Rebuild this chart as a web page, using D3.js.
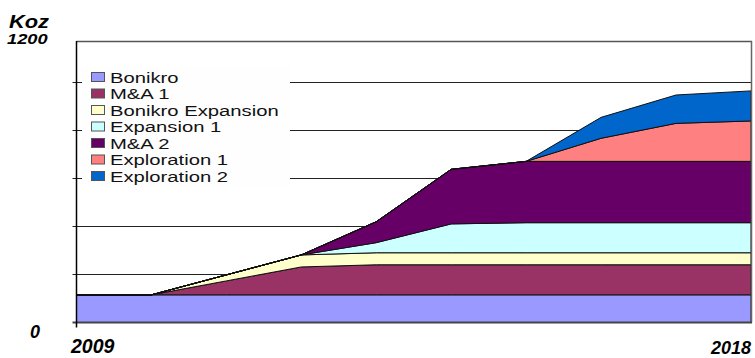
<!DOCTYPE html>
<html>
<head>
<meta charset="utf-8">
<script src="https://cdn.jsdelivr.net/npm/d3@7"></script>
<style>
  body { margin: 0; background: #fff; }
  svg { display: block; font-family: "Liberation Sans", Arial, sans-serif; }
</style>
</head>
<body>
<div id="chart"></div>
<script>
"use strict";

// data (Koz)
var years = [2009, 2010, 2011, 2012, 2013, 2014, 2015, 2016, 2017, 2018];
var seriesNames = ["Bonikro", "M&A 1", "Bonikro Expansion", "Expansion 1", "M&A 2", "Exploration 1", "Exploration 2"];
var bonikro     = [115, 115, 115, 115, 115, 115, 115, 115, 115, 115];
var ma1         = [0, 0, 58, 116, 125, 125, 125, 125, 125, 125];
var bonikroExp  = [0, 0, 25, 50, 50, 50, 50, 50, 50, 50];
var expansion1  = [0, 0, 0, 0, 42, 120, 125, 125, 125, 125];
var ma2         = [0, 0, 0, 0, 87, 227, 255, 255, 255, 255];
var exploration1 = [0, 0, 0, 0, 0, 0, 0, 96, 158, 168];
var exploration2 = [0, 0, 0, 0, 0, 0, 0, 87, 118, 125];
var gridValues = [200, 400, 600, 800, 1000];
var colors = ["#9999ff", "#993366", "#ffffcc", "#ccffff", "#660066", "#ff8080", "#0066cc"];

var allSeries = [bonikro, ma1, bonikroExp, expansion1, ma2, exploration1, exploration2];
var table = years.map(function(yr, i){
    var row = {year: yr};
    seriesNames.forEach(function(name, k){ row[name] = allSeries[k][i]; });
    return row;
});

var W = 755, H = 358;
var left = 76.5, right = 751, bottom = 322.5, plotTop = 41;

var svg = d3.select("#chart").append("svg")
    .attr("width", W)
    .attr("height", H);

var x = d3.scaleLinear().domain([years[0], years[years.length - 1]]).range([left, right]);
var y = d3.scaleLinear().domain([0, 1200]).range([bottom, bottom - 6 * 48.1]);

// grid lines
svg.append("g").selectAll("line").data(gridValues).enter()
    .append("line")
        .attr("x1", left - 4)
        .attr("x2", right)
        .attr("y1", function(d){ return Math.round(y(d)) + 0.5; })
        .attr("y2", function(d){ return Math.round(y(d)) + 0.5; })
        .attr("stroke", "#222")
        .attr("stroke-width", 1);

// stacked areas
var stack = d3.stack().keys(seriesNames);
var layers = stack(table);

var area = d3.area()
    .x(function(d){ return x(d.data.year); })
    .y0(function(d){ return y(d[0]); })
    .y1(function(d){ return y(d[1]); });

svg.append("g").selectAll("path").data(layers).enter()
    .append("path")
        .attr("d", area)
        .attr("fill", function(d, i){ return colors[i]; })
        .attr("stroke", "#111")
        .attr("stroke-width", 1)
        .attr("stroke-linejoin", "round");

// frame
svg.append("line")
    .attr("x1", left).attr("x2", right + 1)
    .attr("y1", plotTop + 0.5).attr("y2", plotTop + 0.5)
    .attr("stroke", "#555").attr("stroke-width", 1.5);
svg.append("line")
    .attr("x1", right + 0.5).attr("x2", right + 0.5)
    .attr("y1", plotTop).attr("y2", bottom)
    .attr("stroke", "#666").attr("stroke-width", 1.5);
svg.append("line")
    .attr("x1", left - 4).attr("x2", right + 1)
    .attr("y1", bottom).attr("y2", bottom)
    .attr("stroke", "#444").attr("stroke-width", 2);
svg.append("line")
    .attr("x1", left).attr("x2", left)
    .attr("y1", plotTop).attr("y2", bottom + 5)
    .attr("stroke", "#000").attr("stroke-width", 1.5);

// legend
var legend = svg.append("g").attr("transform", "translate(82, 67)");
legend.append("rect")
    .attr("width", 208)
    .attr("height", 119)
    .attr("fill", "#fefefe");

var items = legend.selectAll("g.item").data(seriesNames).enter()
    .append("g")
        .attr("class", "item")
        .attr("transform", function(d, i){ return "translate(0," + (10 + i * 16.5) + ")"; });

items.append("rect")
    .attr("x", 9.5)
    .attr("y", -4.5)
    .attr("width", 13)
    .attr("height", 9)
    .attr("fill", function(d, i){ return colors[i]; })
    .attr("stroke", "#555")
    .attr("stroke-width", 1);

items.append("text")
    .attr("transform", "translate(28,5.5) scale(1.35,1)")
    .attr("font-size", 15)
    .attr("fill", "#111")
    .text(function(d){ return d; });

// axis labels
function label(txt, px, py, size, sx){
    svg.append("text")
        .attr("transform", "translate(" + px + "," + py + ") scale(" + sx + ",1)")
        .attr("font-size", size)
        .attr("font-weight", "bold")
        .attr("font-style", "italic")
        .attr("fill", "#000")
        .text(txt);
}
label("Koz", 9, 28, 19, 1.15);
label("1200", 7, 44, 15.5, 1.18);
label("0", 30, 338, 18, 1);
label(String(years[0]), 71, 353, 19.5, 1);
label(String(years[years.length - 1]), 711, 353.5, 18, 1);
</script>
</body>
</html>
